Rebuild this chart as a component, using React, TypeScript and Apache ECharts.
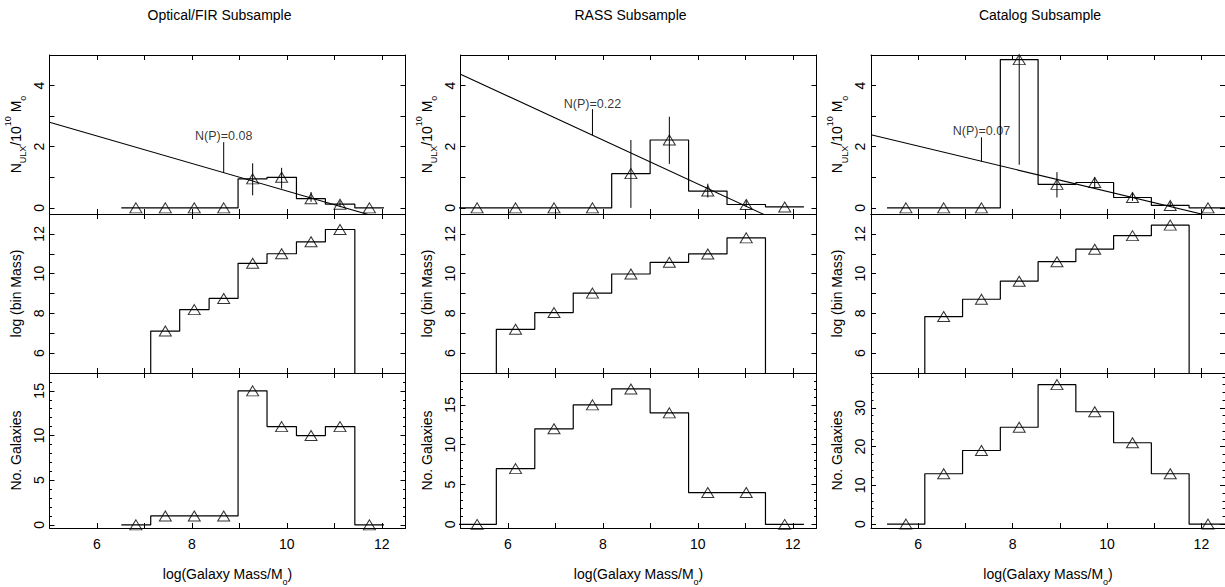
import React, { useEffect, useRef } from "react";
import * as echarts from "echarts";

const FONT = "'Liberation Sans', Arial, Helvetica, sans-serif";

// ---- panel titles ----
const TITLES = ["Optical/FIR Subsample", "RASS Subsample", "Catalog Subsample"];

// ---- bin centres (log Galaxy Mass) and bin widths ----
const centersOpt = [6.82, 7.44, 8.05, 8.67, 9.28, 9.89, 10.51, 11.12, 11.74];
const centersRass = [5.35, 6.16, 6.97, 7.78, 8.59, 9.4, 10.21, 11.02, 11.83];
const centersCat = [5.74, 6.54, 7.34, 8.14, 8.94, 9.74, 10.54, 11.34, 12.14];
const binWidths = [0.615, 0.81, 0.8];

// ---- top row: N_ULX / 10^10 Mo ----
const ulxOpt = [0, 0, 0, 0, 0.95, 1.0, 0.3, 0.12, 0];
const ulxRass = [0, 0, 0, 0, 1.12, 2.22, 0.55, 0.11, 0.03];
const ulxCat = [0, 0, 0, 4.85, 0.77, 0.83, 0.34, 0.08, 0];

const errLoOpt = [null, null, null, null, 0.41, 0.63, 0.2, 0.03, null];
const errHiOpt = [null, null, null, null, 1.46, 1.31, 0.52, 0.23, null];
const errLoRass = [null, null, null, null, 0, 1.44, 0.34, 0.03, null];
const errHiRass = [null, null, null, null, 2.22, 2.98, 0.79, 0.24, null];
const errLoCat = [null, null, null, 1.41, 0.34, 0.63, 0.23, 0.03, null];
const errHiCat = [null, null, null, 5.0, 1.17, 1.0, 0.5, 0.2, null];

// straight-line fits (two end points)
const fitOpt = [[5, 2.8], [12.5, -0.57]];
const fitRass = [[5, 4.37], [12.5, -1.01]];
const fitCat = [[5, 2.39], [12.5, -0.385]];

// N(P) markers: x, y from, y to, label y, label
const markerX = [8.67, 7.78, 7.34];
const markerLo = [1.15, 2.38, 1.52];
const markerHi = [2.15, 3.23, 2.31];
const markerTextY = [2.36, 3.41, 2.5];
const markerText = ["N(P)=0.08", "N(P)=0.22", "N(P)=0.07"];

// ---- middle row: log(bin Mass) ----
const logMassOpt = [null, 7.11, 8.19, 8.75, 10.52, 11.0, 11.6, 12.22, null];
const logMassRass = [null, 7.2, 8.04, 9.02, 9.98, 10.57, 10.99, 11.8, null];
const logMassCat = [null, 7.84, 8.71, 9.62, 10.6, 11.23, 11.91, 12.44, null];

// ---- bottom row: No. Galaxies ----
const galOpt = [0, 1, 1, 1, 15, 11, 10, 11, 0];
const galRass = [0, 7, 12, 15, 17, 14, 4, 4, 0];
const galCat = [0, 13, 19, 25, 36, 29, 21, 13, 0];

// ---- ticks ----
const X_TICKS = [6, 7, 8, 9, 10, 11, 12];
const X_LABELS = [6, 8, 10, 12];
const TOP_TICKS = [0, 1, 2, 3, 4];
const TOP_LABELS = [0, 2, 4];
const MID_TICKS = [6, 7, 8, 9, 10, 11, 12];
const MID_LABELS = [6, 8, 10, 12];
const BOT_MAJOR = [
  [0, 5, 10, 15],
  [0, 5, 10, 15],
  [0, 10, 20, 30],
];
const BOT_MINOR = [
  [0, 1, 2, 3, 4, 5, 6, 7, 8, 9, 10, 11, 12, 13, 14, 15, 16, 17],
  [0, 1, 2, 3, 4, 5, 6, 7, 8, 9, 10, 11, 12, 13, 14, 15, 16, 17, 18, 19],
  [0, 2, 4, 6, 8, 10, 12, 14, 16, 18, 20, 22, 24, 26, 28, 30, 32, 34, 36, 38],
];

// ---- axis ranges ----
const X_RANGE = [5, 12.5];
const TOP_RANGE = [-0.2, 5];
const MID_RANGE = [5, 13];
const BOT_RANGES = [
  [-0.35, 17],
  [-0.45, 19],
  [-1, 39],
];

// ---- layout (pixels) ----
const COL_LEFT = [49.5, 460.5, 871];
const COL_WIDTH = [356, 356, 354];
const ROW_TOP = [55, 214, 373];
const ROW_H = 159;

const centersAll = [centersOpt, centersRass, centersCat];
const ulxAll = [ulxOpt, ulxRass, ulxCat];
const errLoAll = [errLoOpt, errLoRass, errLoCat];
const errHiAll = [errHiOpt, errHiRass, errHiCat];
const fitAll = [fitOpt, fitRass, fitCat];
const logMassAll = [logMassOpt, logMassRass, logMassCat];
const galAll = [galOpt, galRass, galCat];

function edgesOf(centers: number[], w: number) {
  const e = centers.map((c) => c - w / 2);
  e.push(centers[centers.length - 1] + w / 2);
  return e;
}

// full step (all bins defined)
function stepFull(centers: number[], w: number, vals: number[]) {
  const e = edgesOf(centers, w);
  const pts: number[][] = [];
  vals.forEach((v, i) => {
    pts.push([e[i], v]);
    pts.push([e[i + 1], v]);
  });
  return pts;
}

// step for bins with values, dropping to floor at each end
function stepPartial(centers: number[], w: number, vals: (number | null)[], floor: number) {
  const e = edgesOf(centers, w);
  const pts: number[][] = [];
  let first = -1;
  let last = -1;
  vals.forEach((v, i) => {
    if (v !== null) {
      if (first < 0) first = i;
      last = i;
    }
  });
  pts.push([e[first], floor]);
  for (let i = first; i <= last; i++) {
    const v = vals[i] as number;
    pts.push([e[i], v]);
    pts.push([e[i + 1], v]);
  }
  pts.push([e[last + 1], floor]);
  return pts;
}

const baseText = { color: "#000", fontFamily: FONT };

const subRich = {
  a: { fontSize: 14, lineHeight: 24, fontFamily: FONT, color: "#000", verticalAlign: "middle" },
  sub: { fontSize: 9, lineHeight: 9, fontFamily: FONT, color: "#000", verticalAlign: "bottom" },
  sup: { fontSize: 9, lineHeight: 9, fontFamily: FONT, color: "#000", verticalAlign: "top" },
};

export default function App() {
  const ref = useRef<HTMLDivElement>(null);

  useEffect(() => {
    if (!ref.current) return;
    const chart = echarts.init(ref.current, undefined, { renderer: "svg" });

    const grids: any[] = [];
    const xAxes: any[] = [];
    const yAxes: any[] = [];
    const series: any[] = [];
    const graphics: any[] = [];

    for (let c = 0; c < 3; c++) {
      const centers = centersAll[c];
      const w = binWidths[c];
      graphics.push({
        type: "text",
        x: COL_LEFT[c] + COL_WIDTH[c] / 2 - 8,
        y: 15,
        style: {
          text: TITLES[c],
          fontSize: 14,
          fontFamily: FONT,
          fill: "#000",
          align: "center",
          verticalAlign: "middle",
        },
      });

      for (let r = 0; r < 3; r++) {
        const gi = grids.length;
        grids.push({
          left: COL_LEFT[c],
          top: ROW_TOP[r],
          width: COL_WIDTH[c],
          height: ROW_H,
          show: false,
          containLabel: false,
        });
        const isBottom = r === 2;
        const xi = xAxes.length;
        const xCommon = {
          type: "value",
          gridIndex: gi,
          min: X_RANGE[0],
          max: X_RANGE[1],
          splitLine: { show: false },
          axisLine: { show: true, onZero: false, lineStyle: { color: "#000", width: 1 } },
          axisTick: { show: true, inside: true, length: 5, customValues: X_TICKS, lineStyle: { color: "#000", width: 1 } },
        };
        xAxes.push({
          ...xCommon,
          position: "bottom",
          axisLabel: {
            show: isBottom,
            customValues: X_LABELS,
            margin: 9,
            fontSize: 14,
            ...baseText,
          },
          name: isBottom ? "{a|log(Galaxy Mass/M}{sub|o}{a|)}" : "",
          nameLocation: "middle",
          nameGap: 34,
          nameTextStyle: { rich: subRich },
        });
        xAxes.push({ ...xCommon, position: "top", axisLabel: { show: false } });

        let yRange: number[];
        let yTicks: number[];
        let yLabels: number[];
        let yName: string;
        if (r === 0) {
          yRange = TOP_RANGE;
          yTicks = TOP_TICKS;
          yLabels = TOP_LABELS;
          yName = "{a|N}{sub|ULX}{a|/10}{sup|10}{a| M}{sub|o}";
        } else if (r === 1) {
          yRange = MID_RANGE;
          yTicks = MID_TICKS;
          yLabels = MID_LABELS;
          yName = "{a|log (bin Mass)}";
        } else {
          yRange = BOT_RANGES[c];
          yTicks = BOT_MAJOR[c];
          yLabels = BOT_MAJOR[c];
          yName = "{a|No. Galaxies}";
        }
        const yi = yAxes.length;
        const yCommon = {
          type: "value",
          gridIndex: gi,
          min: yRange[0],
          max: yRange[1],
          splitLine: { show: false },
          axisLine: { show: true, onZero: false, lineStyle: { color: "#000", width: 1 } },
          axisTick: { show: true, inside: true, length: 5, customValues: yTicks, lineStyle: { color: "#000", width: 1 } },
        };
        yAxes.push({
          ...yCommon,
          position: "left",
          axisLabel: {
            show: true,
            customValues: yLabels,
            rotate: 90,
            margin: 4,
            fontSize: 14,
            ...baseText,
          },
          name: yName,
          nameLocation: "middle",
          nameRotate: 90,
          nameGap: 22,
          nameTextStyle: { rich: subRich },
        });
        yAxes.push({ ...yCommon, position: "right", axisLabel: { show: false } });
        if (isBottom) {
          const minorCommon = {
            type: "value",
            gridIndex: gi,
            min: yRange[0],
            max: yRange[1],
            splitLine: { show: false },
            axisLine: { show: false },
            axisLabel: { show: false },
            axisTick: { show: true, inside: true, length: 2.5, customValues: BOT_MINOR[c], lineStyle: { color: "#000", width: 1 } },
          };
          yAxes.push({ ...minorCommon, position: "left" });
          yAxes.push({ ...minorCommon, position: "right" });
        }

        const lineStyle = { color: "#000", width: 1.2 };
        const triStyle = {
          type: "scatter",
          xAxisIndex: xi,
          yAxisIndex: yi,
          symbol: "triangle",
          symbolSize: [12, 10],
          itemStyle: { color: "rgba(0,0,0,0)", borderColor: "#000", borderWidth: 1 },
          silent: true,
          z: 5,
        };

        if (r === 0) {
          const vals = ulxAll[c];
          series.push({
            type: "line",
            xAxisIndex: xi,
            yAxisIndex: yi,
            data: stepFull(centers, w, vals),
            showSymbol: false,
            symbol: "none",
            lineStyle,
            clip: true,
            silent: true,
          });
          series.push({ ...triStyle, data: centers.map((x, i) => [x, vals[i]]) });
          const errData: number[][] = [];
          centers.forEach((x, i) => {
            const lo = errLoAll[c][i];
            const hi = errHiAll[c][i];
            if (lo !== null && hi !== null) errData.push([x, lo, hi]);
          });
          series.push({
            type: "custom",
            xAxisIndex: xi,
            yAxisIndex: yi,
            clip: true,
            silent: true,
            data: errData,
            encode: { x: 0, y: [1, 2] },
            renderItem: (params: any, api: any) => {
              const p1 = api.coord([api.value(0), api.value(1)]);
              const p2 = api.coord([api.value(0), api.value(2)]);
              return {
                type: "line",
                shape: { x1: p1[0], y1: p1[1], x2: p2[0], y2: p2[1] },
                style: { stroke: "#000", lineWidth: 1 },
              };
            },
          });
          series.push({
            type: "line",
            xAxisIndex: xi,
            yAxisIndex: yi,
            data: fitAll[c],
            showSymbol: false,
            symbol: "none",
            lineStyle: { color: "#000", width: 1.1 },
            clip: true,
            silent: true,
          });
          series.push({
            type: "line",
            xAxisIndex: xi,
            yAxisIndex: yi,
            data: [
              [markerX[c], markerLo[c]],
              [markerX[c], markerHi[c]],
            ],
            showSymbol: false,
            symbol: "none",
            lineStyle: { color: "#000", width: 1 },
            clip: true,
            silent: true,
          });
          series.push({
            type: "scatter",
            xAxisIndex: xi,
            yAxisIndex: yi,
            data: [[markerX[c], markerTextY[c]]],
            symbolSize: 1,
            itemStyle: { color: "rgba(0,0,0,0)" },
            label: {
              show: true,
              position: "inside",
              formatter: markerText[c],
              fontSize: 12.5,
              color: "#000",
              fontFamily: FONT,
            },
            silent: true,
          });
        } else if (r === 1) {
          const vals = logMassAll[c];
          series.push({
            type: "line",
            xAxisIndex: xi,
            yAxisIndex: yi,
            data: stepPartial(centers, w, vals, MID_RANGE[0]),
            showSymbol: false,
            symbol: "none",
            lineStyle,
            clip: true,
            silent: true,
          });
          const tri: number[][] = [];
          centers.forEach((x, i) => {
            if (vals[i] !== null) tri.push([x, vals[i] as number]);
          });
          series.push({ ...triStyle, data: tri });
        } else {
          const vals = galAll[c];
          series.push({
            type: "line",
            xAxisIndex: xi,
            yAxisIndex: yi,
            data: stepFull(centers, w, vals),
            showSymbol: false,
            symbol: "none",
            lineStyle,
            clip: true,
            silent: true,
          });
          series.push({ ...triStyle, data: centers.map((x, i) => [x, vals[i]]) });
        }
      }
    }

    chart.setOption({
      animation: false,
      backgroundColor: "#fff",
      grid: grids,
      xAxis: xAxes,
      yAxis: yAxes,
      series,
      graphic: graphics,
    });

    return () => chart.dispose();
  }, []);

  return (
    <div
      ref={ref}
      style={{ position: "absolute", left: 0, top: 0, width: 1225, height: 587, background: "#fff" }}
    />
  );
}
